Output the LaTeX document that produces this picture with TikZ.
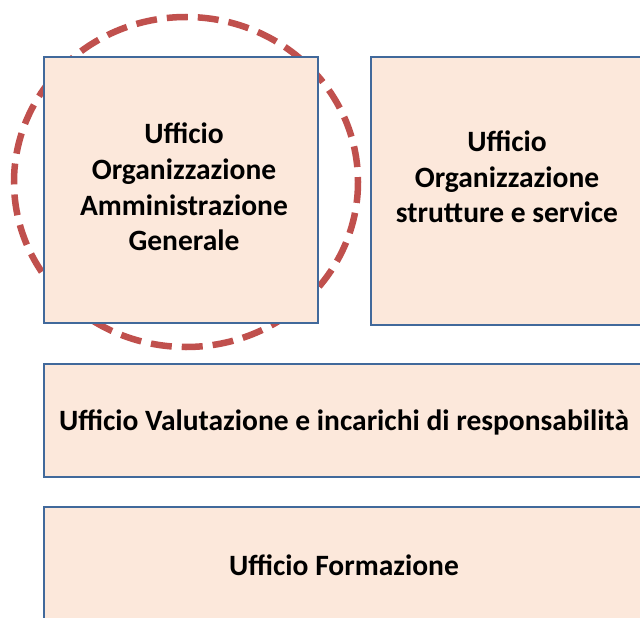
\documentclass[tikz,border=0pt]{standalone}
\usepackage{fontspec}
\setmainfont{Carlito}
\usepackage{tikz}

\definecolor{pesca}{RGB}{252,232,219}
\definecolor{bordo}{RGB}{65,105,155}
\definecolor{rosso}{RGB}{192,80,77}

\begin{document}
\begin{tikzpicture}[x=1pt,y=-1pt,
	ufficio/.style={draw=bordo, line width=2pt, fill=pesca, rectangle, inner sep=0pt},
	testo/.style={align=center, inner sep=0pt, font=\bfseries\fontsize{29.5}{35.7}\selectfont}]
	\useasboundingbox (0,0) rectangle (640,618);
	\clip (0,0) rectangle (640,618);

	% cerchio tratteggiato
	\draw[rosso, line width=6.5pt, dash pattern=on 21pt off 10pt] (186,182) ellipse [x radius=172, y radius=165];

	% uffici
	\node[ufficio, minimum width=274pt, minimum height=266pt] (uoag) at (181,190) {};
	\node[ufficio, minimum width=272pt, minimum height=268pt] (uoss) at (507,191) {};
	\node[ufficio, minimum width=600pt, minimum height=113pt] (uvir) at (344,420.5) {};
	\node[ufficio, minimum width=600pt, minimum height=116pt] (uf) at (344,565) {};

	% testi
	\node[testo] (t-uoag) at ([xshift=3pt,yshift=3pt]uoag.center) {Ufficio\\Organizzazione\\Amministrazione\\Generale};
	\node[testo] (t-uoss) at ([yshift=14pt]uoss.center) {Ufficio\\Organizzazione\\strutture e service};
	\node[testo] (t-uvir) at ([yshift=-2pt]uvir.center) {Ufficio Valutazione e incarichi di responsabilità};
	\node[testo] (t-uf) at (uf.center) {Ufficio Formazione};
\end{tikzpicture}
\end{document}
